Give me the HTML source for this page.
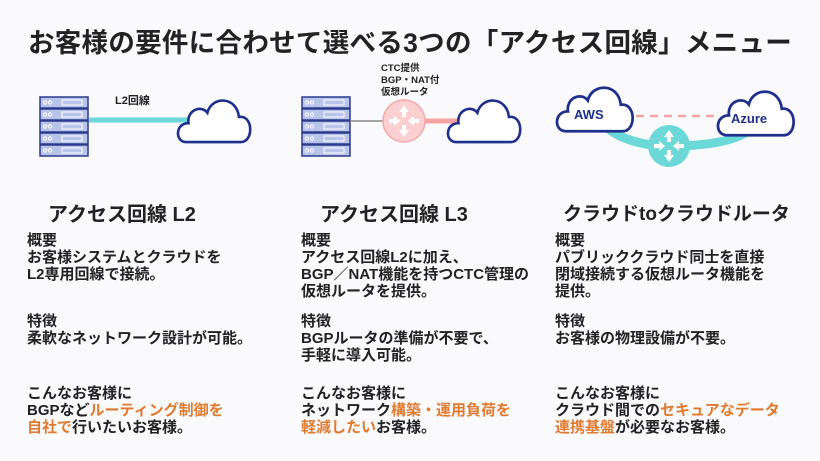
<!DOCTYPE html>
<html><head><meta charset="utf-8"><style>
body{margin:0;width:820px;height:461px;background:#fafafd;overflow:hidden;font-family:"Liberation Sans","Noto Sans CJK JP",sans-serif;color:#222;position:relative}
.t{position:absolute;white-space:nowrap}
h1{position:absolute;margin:0;left:0;width:820px;text-align:center;top:21px;font-size:26.5px;font-weight:bold;letter-spacing:0.3px}
.h{font-size:20px;font-weight:bold;top:198px}
.b{font-size:15px;font-weight:bold;line-height:17px;color:#222}
.o{color:#e07a2e}
</style></head><body>
<h1>お客様の要件に合わせて選べる3つの「アクセス回線」メニュー</h1>
<svg width="820" height="190" style="position:absolute;left:0;top:0">
<defs>
<g id="srv">
<rect x="0" y="0" width="48" height="11" fill="#b8c4ea" stroke="#2a3a8c" stroke-width="1.5"/>
<circle cx="5" cy="5.5" r="1.6" fill="none" stroke="#fff" stroke-width="1"/>
<circle cx="10" cy="5.5" r="1.6" fill="none" stroke="#fff" stroke-width="1"/>
<rect x="22" y="3" width="20" height="5" fill="none" stroke="#fff" stroke-width="1"/>
</g>
<path id="cloud" d="M8 42 C-3 42 -3 24 10 24 C8 12 22 6 28 14 C32 -2 56 -2 58 18 C72 16 72 42 60 42 Z" fill="#fff" stroke="#1f2f8c" stroke-width="2.5"/>
<g id="arr" fill="#fff">
<path d="M0 -16 L-5 -9 L-2 -9 L-2 -4 L2 -4 L2 -9 L5 -9Z"/>
<path d="M0 16 L-5 9 L-2 9 L-2 4 L2 4 L2 9 L5 9Z"/>
<path d="M-4 0 L-10 -5 L-10 -2 L-15 -2 L-15 2 L-10 2 L-10 5Z"/>
<path d="M4 0 L10 -5 L10 -2 L15 -2 L15 2 L10 2 L10 5Z"/>
</g>
</defs>
<g transform="translate(40,97)"><use href="#srv"/><use href="#srv" y="12"/><use href="#srv" y="24"/><use href="#srv" y="36"/><use href="#srv" y="48"/></g>
<line x1="89" y1="120" x2="192" y2="120" stroke="#6dd8d8" stroke-width="5"/>
<use href="#cloud" transform="translate(178,98) scale(1.05)"/>
<text x="115" y="104" font-size="11" font-weight="bold" fill="#222" font-family="Liberation Sans,Noto Sans CJK JP,sans-serif">L2回線</text>
<g transform="translate(302,97)"><use href="#srv"/><use href="#srv" y="12"/><use href="#srv" y="24"/><use href="#srv" y="36"/><use href="#srv" y="48"/></g>
<line x1="350" y1="121" x2="385" y2="121" stroke="#888" stroke-width="1.5"/>
<line x1="424" y1="121" x2="460" y2="121" stroke="#f5a3a3" stroke-width="5"/>
<circle cx="404" cy="121" r="21" fill="#fcd0d0" stroke="#f5a8a8" stroke-width="1.5"/>
<use href="#arr" transform="translate(404,121)"/>
<use href="#cloud" transform="translate(448,98) scale(1.05)"/>
<g font-size="9.5" font-weight="bold" fill="#222" font-family="Liberation Sans,Noto Sans CJK JP,sans-serif">
<text x="381" y="71">CTC提供</text><text x="381" y="83">BGP・NAT付</text><text x="381" y="95">仮想ルータ</text></g>
<path d="M603 124 Q620 142 660 146 M680 146 Q735 144 752 128" fill="none" stroke="#6dd8d8" stroke-width="9"/>
<line x1="622" y1="116" x2="718" y2="116" stroke="#f5a3a3" stroke-width="2.5" stroke-dasharray="8 6"/>
<circle cx="669" cy="146" r="21" fill="#6dd8d8"/>
<use href="#arr" transform="translate(669,146)"/>
<use href="#cloud" transform="translate(557,85) scale(1.1)"/>
<use href="#cloud" transform="translate(718,89) scale(1.1)"/>
<g font-size="13" font-weight="bold" fill="#1f2f8c" font-family="Liberation Sans,sans-serif">
<text x="574" y="119">AWS</text><text x="731" y="123">Azure</text></g>
</svg>
<div class="t h" style="left:48px">アクセス回線 L2</div>
<div class="t h" style="left:320px">アクセス回線 L3</div>
<div class="t h" style="left:563px;font-size:19px;top:199px">クラウドtoクラウドルータ</div>

<div class="t b" style="left:27px;top:232px">概要<br>お客様システムとクラウドを<br>L2専用回線で接続。</div>
<div class="t b" style="left:27px;top:313px">特徴<br>柔軟なネットワーク設計が可能。</div>
<div class="t b" style="left:27px;top:385px">こんなお客様に<br>BGPなど<span class="o">ルーティング制御を</span><br><span class="o">自社で</span>行いたいお客様。</div>

<div class="t b" style="left:301px;top:232px">概要<br>アクセス回線L2に加え、<br>BGP／NAT機能を持つCTC管理の<br>仮想ルータを提供。</div>
<div class="t b" style="left:301px;top:313px">特徴<br>BGPルータの準備が不要で、<br>手軽に導入可能。</div>
<div class="t b" style="left:301px;top:385px">こんなお客様に<br>ネットワーク<span class="o">構築・運用負荷を</span><br><span class="o">軽減したい</span>お客様。</div>

<div class="t b" style="left:555px;top:232px">概要<br>パブリッククラウド同士を直接<br>閉域接続する仮想ルータ機能を<br>提供。</div>
<div class="t b" style="left:555px;top:313px">特徴<br>お客様の物理設備が不要。</div>
<div class="t b" style="left:555px;top:385px">こんなお客様に<br>クラウド間での<span class="o">セキュアなデータ</span><br><span class="o">連携基盤</span>が必要なお客様。</div>
</body></html>
